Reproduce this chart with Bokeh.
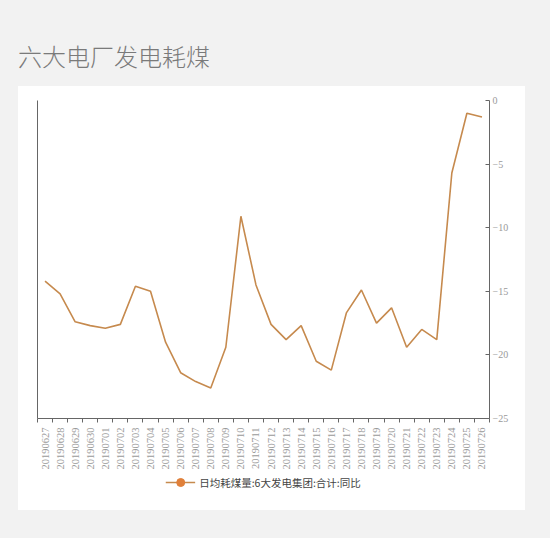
import math
from bokeh.plotting import figure
from bokeh.models import (LinearAxis, FixedTicker, Range1d, Legend, LegendItem,
                          ColumnDataSource, Div, GlobalInlineStyleSheet)
from bokeh.layouts import column
from bokeh.embed import file_html
from bokeh.resources import INLINE

dates = ["20190627", "20190628", "20190629", "20190630", "20190701", "20190702",
         "20190703", "20190704", "20190705", "20190706", "20190707", "20190708",
         "20190709", "20190710", "20190711", "20190712", "20190713", "20190714",
         "20190715", "20190716", "20190717", "20190718", "20190719", "20190720",
         "20190721", "20190722", "20190723", "20190724", "20190725", "20190726"]
values = [-14.2, -15.2, -17.4, -17.7, -17.9, -17.6, -14.6, -15.0, -19.0, -21.4,
          -22.1, -22.6, -19.4, -9.1, -14.5, -17.6, -18.8, -17.7, -20.5, -21.2,
          -16.7, -14.9, -17.5, -16.3, -19.4, -18.0, -18.8, -5.7, -1.0, -1.3]
y_ticks = [0, -5, -10, -15, -20, -25]
series_name = "日均耗煤量:6大发电集团:合计:同比"
title_text = "六大电厂发电耗煤"

line_color = "#c68a4e"
dot_color = "#e0803a"
axis_color = "#666666"
label_color = "#9a9a9a"

idx = list(range(len(dates)))
src = ColumnDataSource(dict(x=idx, y=values))

p = figure(frame_width=452, frame_height=318, output_backend="svg", toolbar_location=None,
           x_range=Range1d(-0.5, len(dates) - 0.5), y_range=Range1d(-25, 0),
           y_axis_location="right", min_border_left=19, min_border_top=14,
           min_border_right=36, min_border_bottom=10,
           background_fill_color="white", border_fill_color="white",
           margin=0)
p.outline_line_color = None
p.xgrid.grid_line_color = None
p.ygrid.grid_line_color = None

r_line = p.line("x", "y", source=src, line_color=line_color, line_width=1.6)

# bottom axis
xa = p.xaxis[0]
xa.ticker = FixedTicker(ticks=idx, minor_ticks=[i - 0.5 for i in range(len(dates) + 1)])
xa.major_label_overrides = {i: d for i, d in enumerate(dates)}
xa.major_label_orientation = math.pi / 2
xa.major_tick_line_color = None
xa.minor_tick_in = 0
xa.minor_tick_out = 4
xa.minor_tick_line_color = axis_color
xa.axis_line_color = axis_color
xa.major_label_text_font = "Liberation Serif"
xa.major_label_text_font_size = "10.5px"
xa.major_label_text_color = label_color
xa.major_label_standoff = 3

# right axis
ya = p.yaxis[0]
ya.ticker = FixedTicker(ticks=y_ticks)
ya.minor_tick_line_color = None
ya.major_tick_in = 4
ya.major_tick_out = 0
ya.major_tick_line_color = axis_color
ya.axis_line_color = axis_color
ya.major_label_text_font = "Liberation Serif"
ya.major_label_text_font_size = "10px"
ya.major_label_text_color = label_color
ya.major_label_standoff = 3

# left plain axis line
la = LinearAxis(ticker=FixedTicker(ticks=[]), axis_line_color=axis_color,
                major_tick_line_color=None, minor_tick_line_color=None,
                major_label_text_font_size="0px")
p.add_layout(la, "left")

# legend strip (separate white figure under the chart, same card);
# its renderers use the series data but lie outside this strip's ranges
lg = figure(width=507, height=38, output_backend="svg", toolbar_location=None,
            x_range=Range1d(0, 1), y_range=Range1d(0, 1), min_border=0,
            background_fill_color="white", border_fill_color="white",
            margin=0)
lg.outline_line_color = None
lg.axis.visible = False
lg.grid.grid_line_color = None
l_line = lg.line("x", "y", source=src, line_color=line_color, line_width=1.6)
l_dot = lg.scatter("x", "y", source=src, size=10,
                   fill_color=dot_color, line_color=dot_color)
legend = Legend(items=[LegendItem(label=series_name, renderers=[l_line, l_dot])],
                location="top_center", orientation="horizontal",
                border_line_color=None, background_fill_alpha=0,
                label_text_font="Noto Sans CJK SC", label_text_font_size="10.5px",
                label_text_color="#444444", glyph_width=30, label_standoff=4,
                margin=0, padding=2)
lg.add_layout(legend)

card = column(p, lg, spacing=0, margin=(0, 0, 0, 18),
              styles={"background-color": "white"})

title = Div(text=title_text, width=400, height=42, margin=(44, 0, 0, 18),
            styles={"font-size": "24px", "color": "#7a7a7a",
                    "font-family": "Noto Sans CJK SC", "line-height": "1",
                    "font-weight": "300"})

layout = column(title, card, spacing=0,
                stylesheets=[GlobalInlineStyleSheet(css="body{background:#f2f2f2;}")])

open("out.html", "w").write(file_html(layout, INLINE))
